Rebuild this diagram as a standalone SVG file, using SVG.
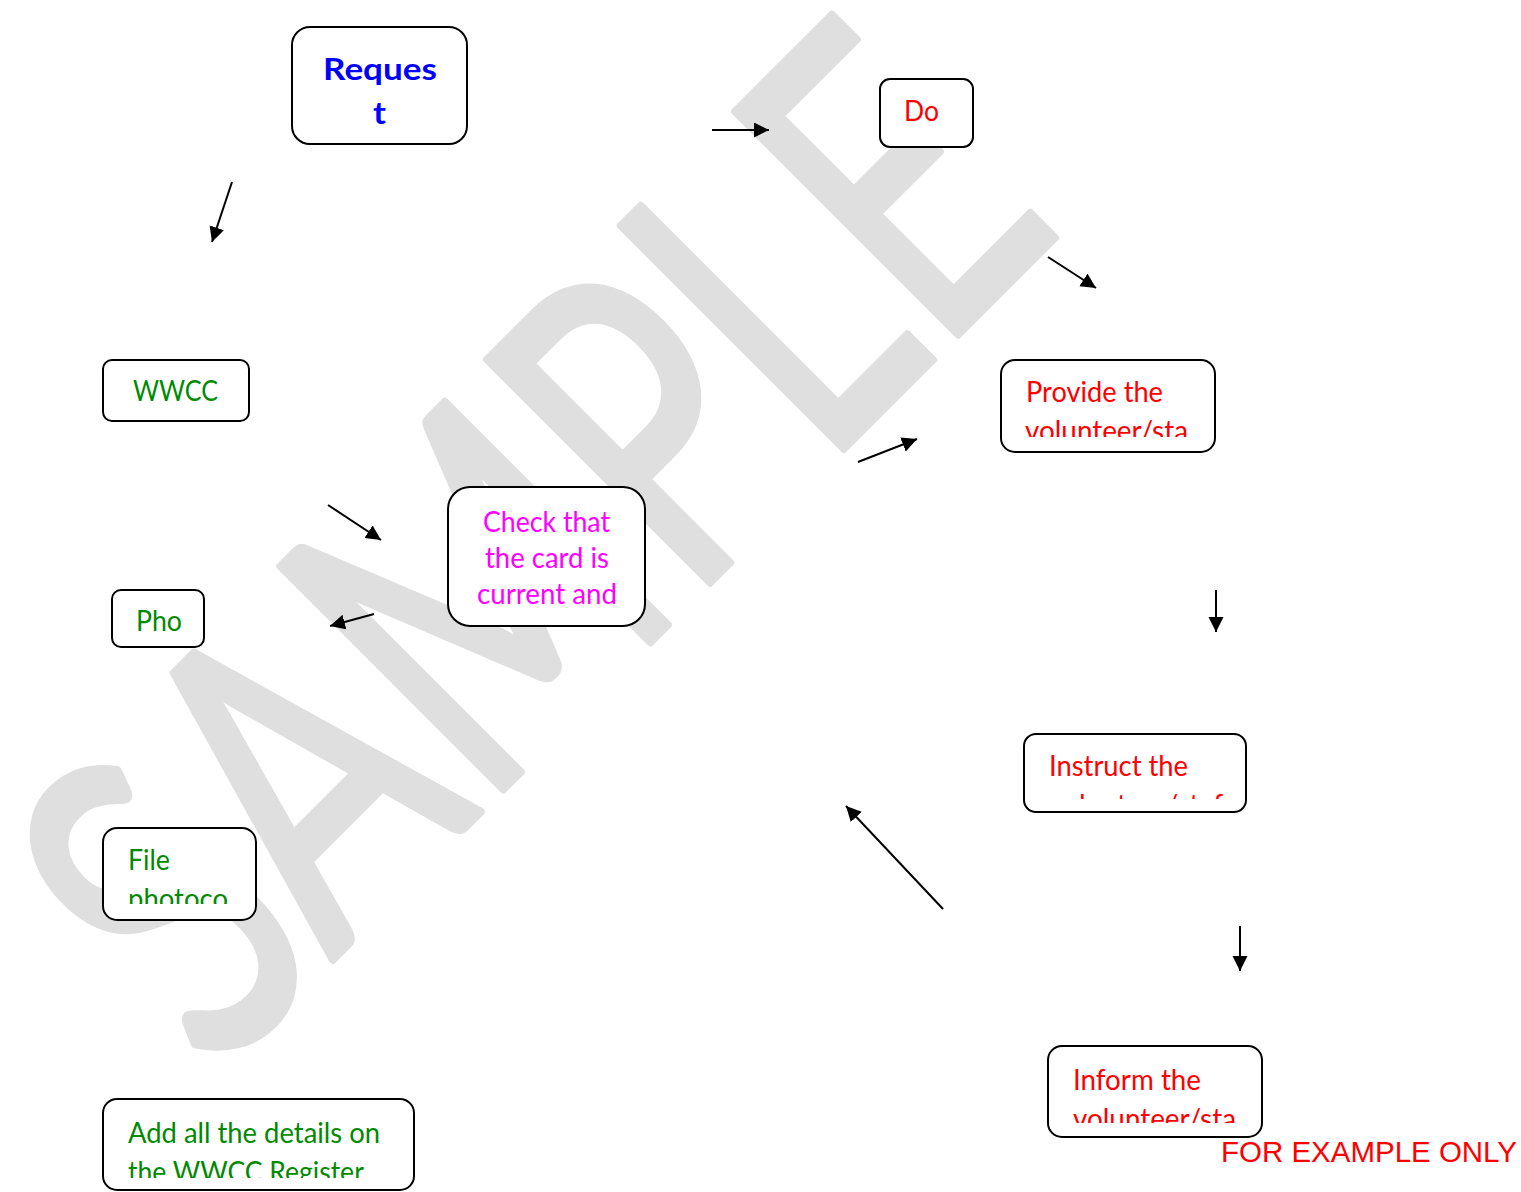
<svg xmlns="http://www.w3.org/2000/svg" width="1521" height="1192" viewBox="0 0 1521 1192">
<style>
.box{fill:#fff;stroke:#000;stroke-width:2}
.t{font-family:Lato,"Open Sans","Liberation Sans",sans-serif;font-size:29px}
.red{fill:#ff0000}
.grn{fill:#008a00}
.mag{fill:#ff00ff}
.blu{fill:#0000ff;font-weight:bold;font-size:30px}
.wm{font-family:Lato,"Open Sans","Liberation Sans",sans-serif;font-size:440px;fill:#dfdfdf;stroke:#dfdfdf;stroke-width:8;stroke-linejoin:round}
.con{stroke:#000;stroke-width:2;fill:none}
</style>
<defs>
<marker id="ah" markerUnits="userSpaceOnUse" markerWidth="16" markerHeight="16" refX="15" refY="7.5" orient="auto">
<path d="M0,0 L15,7.5 L0,15 Z" fill="#000"/>
</marker>
<clipPath id="cProvide"><rect x="1001" y="360" width="214" height="77"/></clipPath>
<clipPath id="cInstruct"><rect x="1024" y="734" width="222" height="65"/></clipPath>
<clipPath id="cInform"><rect x="1048" y="1046" width="214" height="77"/></clipPath>
<clipPath id="cFile"><rect x="103" y="828" width="153" height="76"/></clipPath>
<clipPath id="cAdd"><rect x="103" y="1099" width="311" height="79"/></clipPath>
</defs>
<rect width="1521" height="1192" fill="#fff"/>
<g id="watermark">
<text class="wm" transform="rotate(-45)" x="-612" y="914" textLength="1205" lengthAdjust="spacingAndGlyphs">SAMPLE</text>
</g>
<g id="request">
<rect class="box" x="292" y="27" width="175" height="117" rx="18"/>
<text class="t blu" x="323" y="80" textLength="114" lengthAdjust="spacingAndGlyphs">Reques</text>
<text class="t blu" x="373" y="124" textLength="13" lengthAdjust="spacingAndGlyphs">t</text>
</g>
<g id="do">
<rect class="box" x="880" y="79" width="93" height="68" rx="10"/>
<text class="t red" x="904" y="121" textLength="35" lengthAdjust="spacingAndGlyphs">Do</text>
</g>
<g id="wwcc">
<rect class="box" x="103" y="360" width="146" height="61" rx="9"/>
<text class="t grn" x="133" y="401" textLength="85" lengthAdjust="spacingAndGlyphs">WWCC</text>
</g>
<g id="check">
<rect class="box" x="448" y="487" width="197" height="139" rx="22"/>
<text class="t mag" x="483" y="532" textLength="127" lengthAdjust="spacingAndGlyphs">Check that</text>
<text class="t mag" x="485" y="568" textLength="124" lengthAdjust="spacingAndGlyphs">the card is</text>
<text class="t mag" x="477" y="604" textLength="140" lengthAdjust="spacingAndGlyphs">current and</text>
</g>
<g id="pho">
<rect class="box" x="112" y="590" width="92" height="57" rx="9"/>
<text class="t grn" x="136" y="631" textLength="46" lengthAdjust="spacingAndGlyphs">Pho</text>
</g>
<g id="provide">
<rect class="box" x="1001" y="360" width="214" height="92" rx="14"/>
<g clip-path="url(#cProvide)">
<text class="t red" x="1026" y="402" textLength="137" lengthAdjust="spacingAndGlyphs">Provide the</text>
<text class="t red" x="1025" y="440.5" textLength="163" lengthAdjust="spacingAndGlyphs">volunteer/sta</text>
</g>
</g>
<g id="instruct">
<rect class="box" x="1024" y="734" width="222" height="78" rx="12"/>
<g clip-path="url(#cInstruct)">
<text class="t red" x="1049" y="776" textLength="139" lengthAdjust="spacingAndGlyphs">Instruct the</text>
<text class="t red" x="1049" y="814.5" textLength="174" lengthAdjust="spacingAndGlyphs">volunteer/staf</text>
</g>
</g>
<g id="file">
<rect class="box" x="103" y="828" width="153" height="92" rx="14"/>
<g clip-path="url(#cFile)">
<text class="t grn" x="128" y="870" textLength="42" lengthAdjust="spacingAndGlyphs">File</text>
<text class="t grn" x="128" y="909" textLength="100" lengthAdjust="spacingAndGlyphs">photoco</text>
</g>
</g>
<g id="add">
<rect class="box" x="103" y="1099" width="311" height="91" rx="14"/>
<g clip-path="url(#cAdd)">
<text class="t grn" x="128" y="1143" textLength="252" lengthAdjust="spacingAndGlyphs">Add all the details on</text>
<text class="t grn" x="128" y="1181.5" textLength="241" lengthAdjust="spacingAndGlyphs">the WWCC Register.</text>
</g>
</g>
<g id="inform">
<rect class="box" x="1048" y="1046" width="214" height="91" rx="14"/>
<g clip-path="url(#cInform)">
<text class="t red" x="1073" y="1090" textLength="128" lengthAdjust="spacingAndGlyphs">Inform the</text>
<text class="t red" x="1073" y="1128.5" textLength="163" lengthAdjust="spacingAndGlyphs">volunteer/sta</text>
</g>
</g>
<g id="connectors">
<line class="con" x1="232" y1="182" x2="212" y2="242" marker-end="url(#ah)"/>
<line class="con" x1="712" y1="130" x2="769" y2="130" marker-end="url(#ah)"/>
<line class="con" x1="1048" y1="257" x2="1096" y2="288" marker-end="url(#ah)"/>
<line class="con" x1="858" y1="462" x2="917" y2="439" marker-end="url(#ah)"/>
<line class="con" x1="328" y1="505" x2="381" y2="540" marker-end="url(#ah)"/>
<line class="con" x1="374" y1="614" x2="330" y2="626" marker-end="url(#ah)"/>
<line class="con" x1="1216" y1="590" x2="1216" y2="632" marker-end="url(#ah)"/>
<line class="con" x1="943" y1="909" x2="846" y2="806" marker-end="url(#ah)"/>
<line class="con" x1="1240" y1="926" x2="1240" y2="971" marker-end="url(#ah)"/>
</g>
<text x="1221" y="1162" font-family="'Liberation Sans',Arial,sans-serif" font-size="29" fill="#ff0000" textLength="296" lengthAdjust="spacingAndGlyphs">FOR EXAMPLE ONLY</text>
</svg>
